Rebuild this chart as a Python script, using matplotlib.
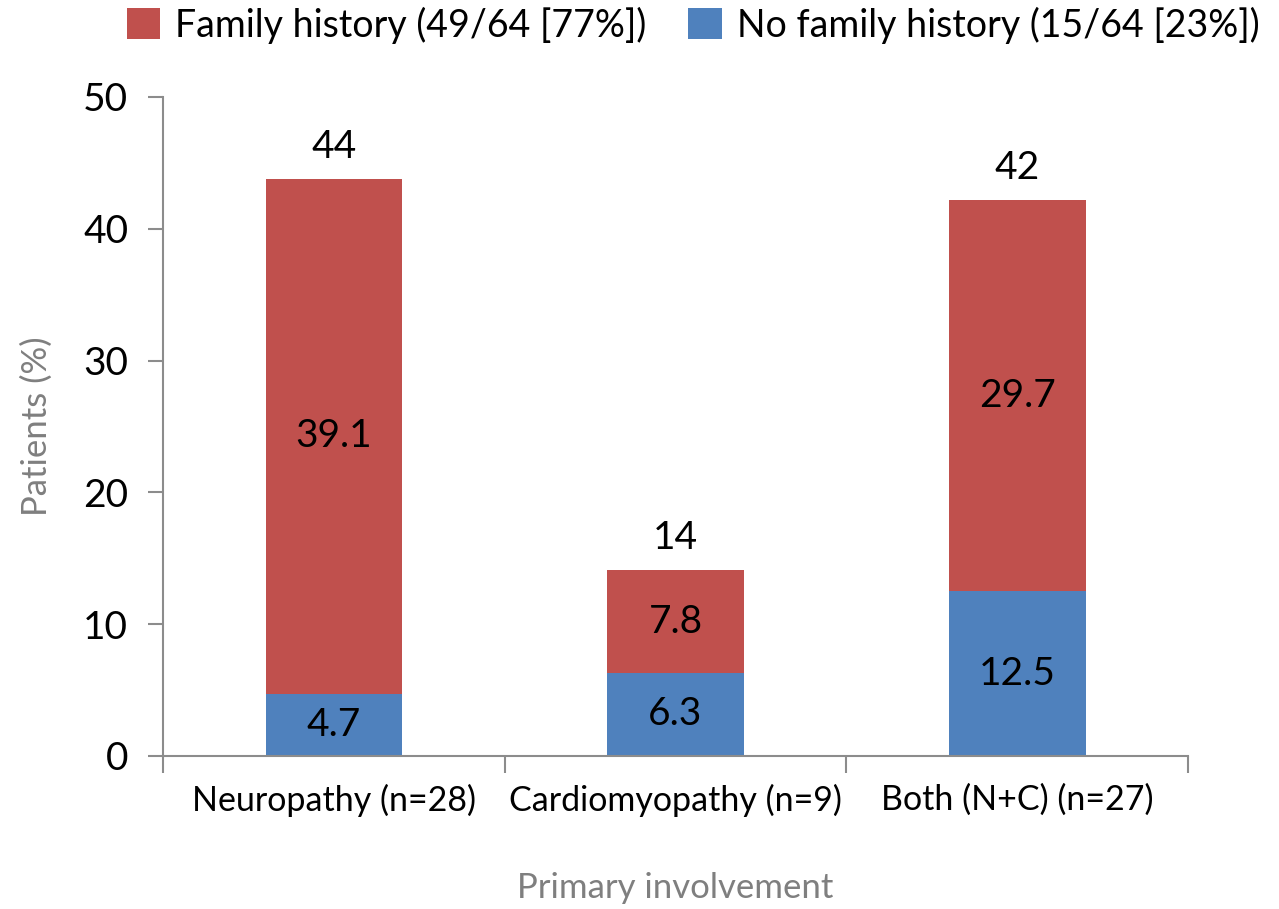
import matplotlib
matplotlib.use("Agg")
import matplotlib.pyplot as plt
import numpy as np

categories = ["Neuropathy (n=28)", "Cardiomyopathy (n=9)", "Both (N+C) (n=27)"]
no_family = [4.7, 6.3, 12.5]
family = [39.1, 7.8, 29.7]
totals = [44, 14, 42]
legend_labels = ["Family history (49/64 [77%])", "No family history (15/64 [23%])"]

plt.rcParams['font.family'] = ['Lato', 'DejaVu Sans']
RED = "#C0504D"
BLUE = "#4F81BD"
AXC = "#8C8C8C"

W, H = 1279, 909
fig = plt.figure(figsize=(W/100, H/100), dpi=100)
ax = fig.add_axes([163/W, (H-756)/H, (1188-163)/W, (756-97)/H])

x = np.arange(len(categories))
bw = 0.4
b1 = ax.bar(x, no_family, bw, color=BLUE, label=legend_labels[1], zorder=2)
b2 = ax.bar(x, family, bw, bottom=no_family, color=RED, label=legend_labels[0], zorder=2)

fs = 28
for i in range(len(x)):
    ax.text(x[i], no_family[i]/2, f"{no_family[i]}", ha="center", va="center", fontsize=fs, zorder=3)
    ax.text(x[i], no_family[i] + family[i]/2, f"{family[i]}", ha="center", va="center", fontsize=fs, zorder=3)
    ax.annotate(f"{totals[i]}", (x[i], no_family[i] + family[i]), xytext=(0, 10),
                textcoords="offset points", ha="center", va="bottom", fontsize=fs)

ax.set_xlim(-0.5, 2.5)
ax.set_ylim(0, 50)
ax.set_yticks([0, 10, 20, 30, 40, 50])
ax.set_xticks(x)
ax.set_xticklabels(categories, fontsize=24.5)
ax.tick_params(axis="x", length=0, pad=20)
ax.set_xticks([-0.5, 0.5, 1.5, 2.5], minor=True)
ax.tick_params(axis="x", which="minor", length=12, color=AXC, width=1.5, direction="out")
ax.tick_params(axis="y", length=11, color=AXC, width=1.5, labelsize=fs, pad=14)
for s in ["top", "right"]:
    ax.spines[s].set_visible(False)
for s in ["left", "bottom"]:
    ax.spines[s].set_color(AXC)
    ax.spines[s].set_linewidth(1.5)

ax.set_ylabel("Patients (%)", fontsize=25, color="#7F7F7F", labelpad=22)
ax.set_xlabel("Primary involvement", fontsize=25, color="#7F7F7F", labelpad=40)

handles = [b2, b1]
fig.legend(handles, legend_labels, loc="upper center", bbox_to_anchor=(693/W, 1.03), ncol=2,
           frameon=False, fontsize=27, handlelength=0.9, handleheight=0.9, handletextpad=0.4,
           columnspacing=1.1)

fig.savefig("out.png", dpi=100)
